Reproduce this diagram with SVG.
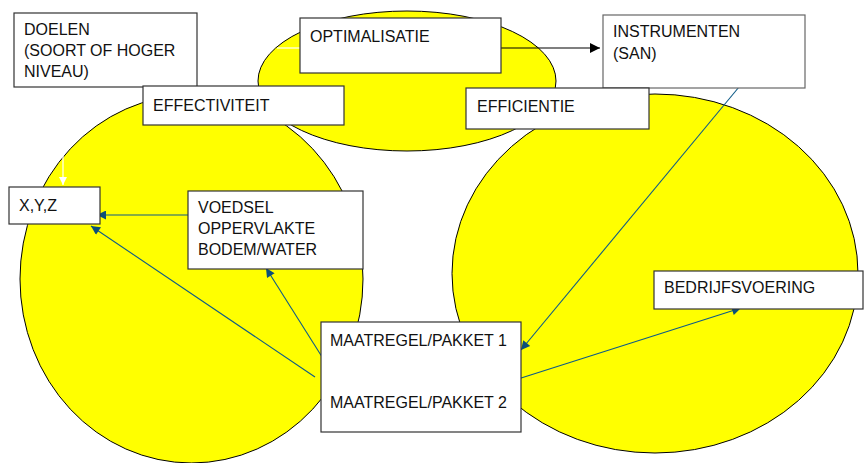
<svg xmlns="http://www.w3.org/2000/svg" width="864" height="463" viewBox="0 0 864 463">
  <style>
    .blob { fill: #ffff00; stroke: #000; stroke-width: 1; }
    .box { fill: #fff; stroke: #333; stroke-width: 1.2; }
    .lbl { font-family: "Liberation Sans", Arial, sans-serif; font-size: 16px; fill: #111; }
    .conn { stroke: #0e5b87; stroke-width: 1.1; fill: none; }
  </style>
  <defs>
    <marker id="ab" viewBox="0 0 10 10" refX="10" refY="5" markerWidth="11" markerHeight="9" markerUnits="userSpaceOnUse" orient="auto">
      <path d="M0,0 L10,5 L0,10 z" fill="#0b4f7a"/>
    </marker>
    <marker id="ak" viewBox="0 0 10 10" refX="10" refY="5" markerWidth="11" markerHeight="10" markerUnits="userSpaceOnUse" orient="auto">
      <path d="M0,0 L10,5 L0,10 z" fill="#000"/>
    </marker>
    <marker id="aw" viewBox="0 0 10 10" refX="10" refY="5" markerWidth="9" markerHeight="8" markerUnits="userSpaceOnUse" orient="auto">
      <path d="M0,0 L10,5 L0,10 z" fill="#fff"/>
    </marker>
  </defs>
  <rect width="864" height="463" fill="#fff"/>

  <g id="areas">
    <ellipse class="blob" cx="407" cy="81" rx="149" ry="70"/>
    <ellipse class="blob" cx="191.5" cy="279" rx="171.5" ry="184"/>
    <ellipse class="blob" cx="655" cy="273.5" rx="203" ry="179.5"/>
  </g>

  <g id="connectors">
    <line x1="277" y1="48" x2="300" y2="48" stroke="#fff" stroke-width="1.2"/>
    <line x1="501" y1="48" x2="600" y2="48" stroke="#000" stroke-width="1.2" marker-end="url(#ak)"/>
    <line x1="63" y1="87" x2="63" y2="185" stroke="#fff" stroke-width="1.2" marker-end="url(#aw)"/>
    <line class="conn" x1="188" y1="215" x2="97" y2="215" marker-end="url(#ab)"/>
    <line class="conn" x1="315" y1="377" x2="91" y2="226" marker-end="url(#ab)"/>
    <line class="conn" x1="324" y1="360" x2="266" y2="268" marker-end="url(#ab)"/>
    <line class="conn" x1="739" y1="87" x2="521" y2="350" marker-end="url(#ab)"/>
    <line class="conn" x1="518" y1="379" x2="741" y2="308" marker-end="url(#ab)"/>
  </g>

  <g id="doelen">
    <rect class="box" x="14" y="13" width="183" height="74"/>
    <text class="lbl" x="24" y="35">DOELEN</text>
    <text class="lbl" x="24" y="56">(SOORT OF HOGER</text>
    <text class="lbl" x="24" y="77">NIVEAU)</text>
  </g>
  <g id="optimalisatie">
    <rect class="box" x="300" y="18" width="201" height="55"/>
    <text class="lbl" x="310" y="42">OPTIMALISATIE</text>
  </g>
  <g id="instrumenten">
    <rect class="box" x="603" y="15" width="202" height="73" style="stroke:#666"/>
    <text class="lbl" x="613" y="37">INSTRUMENTEN</text>
    <text class="lbl" x="613" y="59">(SAN)</text>
  </g>
  <g id="effectiviteit">
    <rect class="box" x="143" y="86" width="201" height="39"/>
    <text class="lbl" x="153" y="111">EFFECTIVITEIT</text>
  </g>
  <g id="efficientie">
    <rect class="box" x="466" y="88" width="183" height="41"/>
    <text class="lbl" x="477" y="112">EFFICIENTIE</text>
  </g>
  <g id="xyz">
    <rect class="box" x="9" y="187" width="91" height="37"/>
    <text class="lbl" x="19" y="211">X,Y,Z</text>
  </g>
  <g id="voedsel">
    <rect class="box" x="188" y="191" width="175" height="78"/>
    <text class="lbl" x="198" y="213">VOEDSEL</text>
    <text class="lbl" x="198" y="234">OPPERVLAKTE</text>
    <text class="lbl" x="198" y="255">BODEM/WATER</text>
  </g>
  <g id="bedrijfsvoering">
    <rect class="box" x="654" y="271" width="209" height="38"/>
    <text class="lbl" x="664" y="293">BEDRIJFSVOERING</text>
  </g>
  <g id="maatregel">
    <rect class="box" x="321" y="322" width="200" height="110"/>
    <text class="lbl" x="330" y="346">MAATREGEL/PAKKET 1</text>
    <text class="lbl" x="330" y="408">MAATREGEL/PAKKET 2</text>
  </g>
</svg>
